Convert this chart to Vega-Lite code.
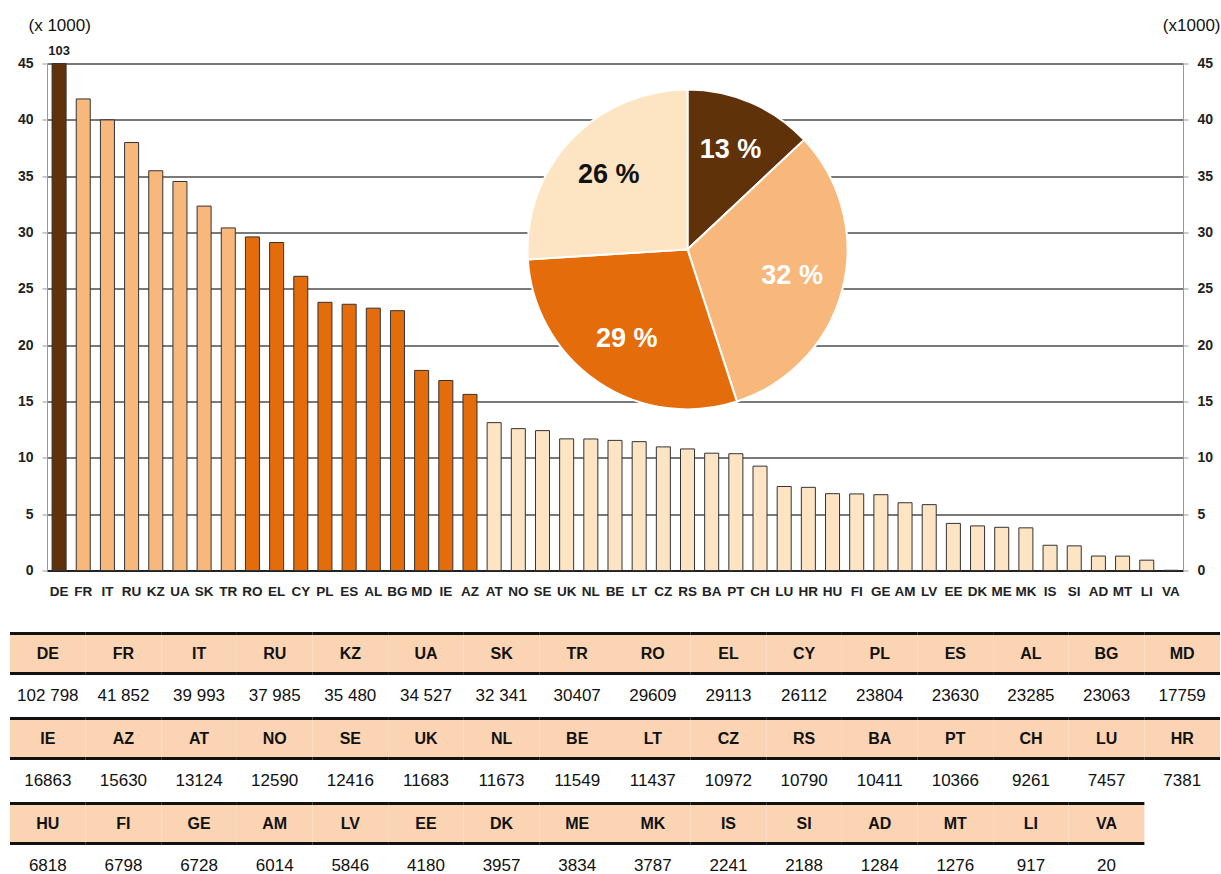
{
  "$schema": "https://vega.github.io/schema/vega-lite/v6.json",
  "padding": {"left": 10, "top": 16.5, "right": 1, "bottom": 0},
  "config": {"view": {"stroke": null}, "font": "Liberation Sans"},
  "data": {"values": [
    {"c":"DE","v":102798,"s":"102 798","g":"A"},
    {"c":"FR","v":41852,"s":"41 852","g":"B"},
    {"c":"IT","v":39993,"s":"39 993","g":"B"},
    {"c":"RU","v":37985,"s":"37 985","g":"B"},
    {"c":"KZ","v":35480,"s":"35 480","g":"B"},
    {"c":"UA","v":34527,"s":"34 527","g":"B"},
    {"c":"SK","v":32341,"s":"32 341","g":"B"},
    {"c":"TR","v":30407,"s":"30407","g":"B"},
    {"c":"RO","v":29609,"s":"29609","g":"C"},
    {"c":"EL","v":29113,"s":"29113","g":"C"},
    {"c":"CY","v":26112,"s":"26112","g":"C"},
    {"c":"PL","v":23804,"s":"23804","g":"C"},
    {"c":"ES","v":23630,"s":"23630","g":"C"},
    {"c":"AL","v":23285,"s":"23285","g":"C"},
    {"c":"BG","v":23063,"s":"23063","g":"C"},
    {"c":"MD","v":17759,"s":"17759","g":"C"},
    {"c":"IE","v":16863,"s":"16863","g":"C"},
    {"c":"AZ","v":15630,"s":"15630","g":"C"},
    {"c":"AT","v":13124,"s":"13124","g":"D"},
    {"c":"NO","v":12590,"s":"12590","g":"D"},
    {"c":"SE","v":12416,"s":"12416","g":"D"},
    {"c":"UK","v":11683,"s":"11683","g":"D"},
    {"c":"NL","v":11673,"s":"11673","g":"D"},
    {"c":"BE","v":11549,"s":"11549","g":"D"},
    {"c":"LT","v":11437,"s":"11437","g":"D"},
    {"c":"CZ","v":10972,"s":"10972","g":"D"},
    {"c":"RS","v":10790,"s":"10790","g":"D"},
    {"c":"BA","v":10411,"s":"10411","g":"D"},
    {"c":"PT","v":10366,"s":"10366","g":"D"},
    {"c":"CH","v":9261,"s":"9261","g":"D"},
    {"c":"LU","v":7457,"s":"7457","g":"D"},
    {"c":"HR","v":7381,"s":"7381","g":"D"},
    {"c":"HU","v":6818,"s":"6818","g":"D"},
    {"c":"FI","v":6798,"s":"6798","g":"D"},
    {"c":"GE","v":6728,"s":"6728","g":"D"},
    {"c":"AM","v":6014,"s":"6014","g":"D"},
    {"c":"LV","v":5846,"s":"5846","g":"D"},
    {"c":"EE","v":4180,"s":"4180","g":"D"},
    {"c":"DK","v":3957,"s":"3957","g":"D"},
    {"c":"ME","v":3834,"s":"3834","g":"D"},
    {"c":"MK","v":3787,"s":"3787","g":"D"},
    {"c":"IS","v":2241,"s":"2241","g":"D"},
    {"c":"SI","v":2188,"s":"2188","g":"D"},
    {"c":"AD","v":1284,"s":"1284","g":"D"},
    {"c":"MT","v":1276,"s":"1276","g":"D"},
    {"c":"LI","v":917,"s":"917","g":"D"},
    {"c":"VA","v":20,"s":"20","g":"D"}
  ]},
  "spacing": 33,
  "vconcat": [
    {
      "width": 1136,
      "height": 507,
      "resolve": {"axis": {"y": "independent"}},
      "layer": [
        {
          "mark": {"type": "bar", "stroke": "#333", "strokeWidth": 1},
          "encoding": {
            "x": {"field": "c", "type": "nominal", "sort": null, "title": null,
              "scale": {"domain": ["DE","FR","IT","RU","KZ","UA","SK","TR","RO","EL","CY","PL","ES","AL","BG","MD","IE","AZ","AT","NO","SE","UK","NL","BE","LT","CZ","RS","BA","PT","CH","LU","HR","HU","FI","GE","AM","LV","EE","DK","ME","MK","IS","SI","AD","MT","LI","VA"], "paddingInner": 0.42, "paddingOuter": 0.21},
              "axis": {"labelAngle": 0, "ticks": false, "tickSize": 0, "labelPadding": 14, "labelFontSize": 13.5, "labelFontWeight": "bold", "labelColor": "#222", "domainColor": "#222", "domainWidth": 2, "title": null}},
            "y": {"field": "v", "type": "quantitative", "title": "(x 1000)",
              "scale": {"domain": [0, 45000], "clamp": true, "nice": false},
              "axis": {"orient": "left", "values": [0,5000,10000,15000,20000,25000,30000,35000,40000,45000], "labelExpr": "datum.value / 1000",
                "labelFontSize": 14, "labelFontWeight": "bold", "labelColor": "#222", "labelPadding": 9, "tickSize": 5, "tickColor": "#999", "domainColor": "#999",
                "grid": true, "gridColor": "#4d4d4d", "gridWidth": 1.5, "minExtent": 37,
                "titleAngle": 0, "titleAlign": "left", "titleBaseline": "middle", "titleX": -19, "titleY": -38, "titleFontSize": 17, "titleFontWeight": "normal", "titleColor": "#111"}},
            "color": {"field": "g", "type": "nominal", "legend": null,
              "scale": {"domain": ["A","B","C","D"], "range": ["#5F3209","#F8B87C","#E46C0A","#FDE4C2"]}}
          }
        },
        {
          "transform": [{"filter": "datum.v > 45000"}],
          "mark": {"type": "text", "dy": -13, "fontSize": 13, "fontWeight": "bold", "color": "#222"},
          "encoding": {
            "x": {"field": "c", "type": "nominal"},
            "y": {"field": "v", "type": "quantitative", "title": "(x1000)",
              "axis": {"orient": "right", "values": [0,5000,10000,15000,20000,25000,30000,35000,40000,45000], "labelExpr": "datum.value / 1000",
                "labelFontSize": 14, "labelFontWeight": "bold", "labelColor": "#222", "labelPadding": 9, "tickSize": 5, "tickColor": "#999", "domainColor": "#999", "grid": false,
                "titleAngle": 0, "titleAlign": "right", "titleBaseline": "middle", "titleX": 37, "titleY": -38, "titleFontSize": 17, "titleFontWeight": "normal", "titleColor": "#111"}},
            "text": {"value": "103"}
          }
        },
        {
          "data": {"values": [
            {"g":"A","p":13,"t":"13 %"},
            {"g":"B","p":32,"t":"32 %"},
            {"g":"C","p":29,"t":"29 %"},
            {"g":"D","p":26,"t":"26 %"}
          ]},
          "layer": [
            {
              "mark": {"type": "arc", "outerRadius": 160, "stroke": "white", "strokeWidth": 2},
              "encoding": {
                "x": {"datum": "RS"},
                "y": {"datum": 28500, "type": "quantitative", "axis": null},
                "theta": {"field": "p", "type": "quantitative", "stack": true},
                "order": {"field": "g", "type": "nominal"},
                "color": {"field": "g", "type": "nominal", "legend": null}
              }
            },
            {
              "mark": {"type": "text", "radius": 108, "fontSize": 27, "fontWeight": "bold"},
              "encoding": {
                "x": {"datum": "RS"},
                "y": {"datum": 28500, "type": "quantitative", "axis": null},
                "theta": {"field": "p", "type": "quantitative", "stack": true},
                "order": {"field": "g", "type": "nominal"},
                "text": {"field": "t"},
                "color": {"condition": {"test": "datum.g === 'D'", "value": "#111"}, "value": "white"}
              }
            }
          ]
        }
      ]
    },
    {
      "spacing": 0,
      "vconcat": [
        {
          "width": 1173, "height": 83,
          "transform": [
            {"filter": "datum.v >= 17000"},
            {"window": [{"op": "row_number", "as": "k"}], "sort": [{"field": "v", "order": "descending"}]}
          ],
          "encoding": {
            "x": {"field": "k", "type": "ordinal", "axis": null, "scale": {"domain": [1,2,3,4,5,6,7,8,9,10,11,12,13,14,15,16], "range": [-37, 1173], "paddingInner": 0, "paddingOuter": 0}}
          },
          "layer": [
            {"mark": {"type": "rect", "fill": "#FBD4B4"}, "encoding": {"y": {"datum": 0, "type": "quantitative", "axis": null, "scale": {"domain": [0, 2.075], "reverse": true, "nice": false, "zero": false}}, "y2": {"datum": 1}}},
            {"mark": {"type": "rect", "fill": "#111"}, "encoding": {"y": {"datum": -0.0375, "type": "quantitative"}, "y2": {"datum": 0.0375}}},
            {"mark": {"type": "rect", "fill": "#111"}, "encoding": {"y": {"datum": 0.9625, "type": "quantitative"}, "y2": {"datum": 1.0375}}},
            {"mark": {"type": "text", "fontSize": 16, "fontWeight": "bold", "color": "#111"}, "encoding": {"y": {"datum": 0.5, "type": "quantitative"}, "text": {"field": "c"}}},
            {"mark": {"type": "text", "fontSize": 17, "color": "#111"}, "encoding": {"y": {"datum": 1.55, "type": "quantitative"}, "text": {"field": "s"}}}
          ]
        },
        {
          "width": 1173, "height": 83,
          "transform": [
            {"filter": "datum.v < 17000 && datum.v >= 7000"},
            {"window": [{"op": "row_number", "as": "k"}], "sort": [{"field": "v", "order": "descending"}]}
          ],
          "encoding": {
            "x": {"field": "k", "type": "ordinal", "axis": null, "scale": {"domain": [1,2,3,4,5,6,7,8,9,10,11,12,13,14,15,16], "range": [-37, 1173], "paddingInner": 0, "paddingOuter": 0}}
          },
          "layer": [
            {"mark": {"type": "rect", "fill": "#FBD4B4"}, "encoding": {"y": {"datum": 0, "type": "quantitative", "axis": null, "scale": {"domain": [0, 2.075], "reverse": true, "nice": false, "zero": false}}, "y2": {"datum": 1}}},
            {"mark": {"type": "rect", "fill": "#111"}, "encoding": {"y": {"datum": -0.0375, "type": "quantitative"}, "y2": {"datum": 0.0375}}},
            {"mark": {"type": "rect", "fill": "#111"}, "encoding": {"y": {"datum": 0.9625, "type": "quantitative"}, "y2": {"datum": 1.0375}}},
            {"mark": {"type": "text", "fontSize": 16, "fontWeight": "bold", "color": "#111"}, "encoding": {"y": {"datum": 0.5, "type": "quantitative"}, "text": {"field": "c"}}},
            {"mark": {"type": "text", "fontSize": 17, "color": "#111"}, "encoding": {"y": {"datum": 1.55, "type": "quantitative"}, "text": {"field": "s"}}}
          ]
        },
        {
          "width": 1173, "height": 73,
          "transform": [
            {"filter": "datum.v < 7000"},
            {"window": [{"op": "row_number", "as": "k"}], "sort": [{"field": "v", "order": "descending"}]}
          ],
          "encoding": {
            "x": {"field": "k", "type": "ordinal", "axis": null, "scale": {"domain": [1,2,3,4,5,6,7,8,9,10,11,12,13,14,15,16], "range": [-37, 1173], "paddingInner": 0, "paddingOuter": 0}}
          },
          "layer": [
            {"mark": {"type": "rect", "fill": "#FBD4B4"}, "encoding": {"y": {"datum": 0, "type": "quantitative", "axis": null, "scale": {"domain": [0, 1.825], "reverse": true, "nice": false, "zero": false}}, "y2": {"datum": 1}}},
            {"mark": {"type": "rect", "fill": "#111"}, "encoding": {"y": {"datum": -0.0375, "type": "quantitative"}, "y2": {"datum": 0.0375}}},
            {"mark": {"type": "rect", "fill": "#111"}, "encoding": {"y": {"datum": 0.9625, "type": "quantitative"}, "y2": {"datum": 1.0375}}},
            {"mark": {"type": "text", "fontSize": 16, "fontWeight": "bold", "color": "#111"}, "encoding": {"y": {"datum": 0.5, "type": "quantitative"}, "text": {"field": "c"}}},
            {"mark": {"type": "text", "fontSize": 17, "color": "#111"}, "encoding": {"y": {"datum": 1.55, "type": "quantitative"}, "text": {"field": "s"}}}
          ]
        }
      ]
    }
  ]
}
